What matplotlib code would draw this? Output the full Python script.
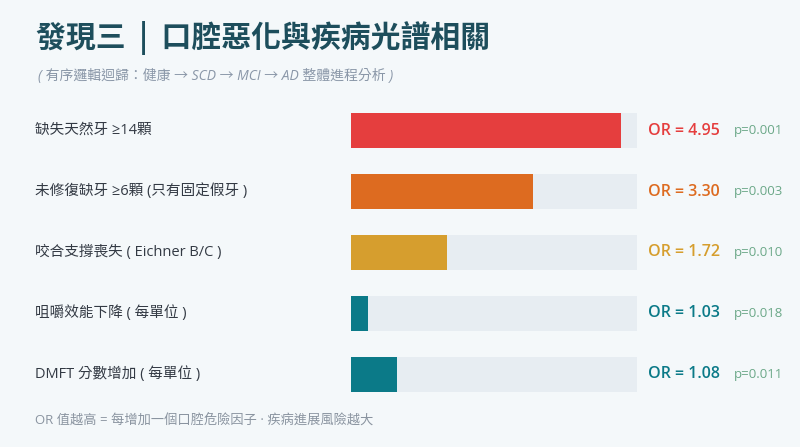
import matplotlib.pyplot as plt

plt.rcParams['font.family'] = ['Open Sans', 'Noto Sans CJK TC', 'DejaVu Sans']

# data
labels = ['缺失天然牙 ≥14顆', '未修復缺牙 ≥6顆 (只有固定假牙 )', '咬合支撐喪失 ( Eichner B/C )',
          '咀嚼效能下降 ( 每單位 )', 'DMFT 分數增加 ( 每單位 )']
odds = ['4.95', '3.30', '1.72', '1.03', '1.08']
pvals = ['0.001', '0.003', '0.010', '0.018', '0.011']
bar_pct = [94.4, 63.6, 33.6, 6.0, 16.1]
colors = ['#E53E3E', '#DD6B20', '#D69E2E', '#0B7A88', '#0B7A88']

bg = '#F4F8FA'
fig = plt.figure(figsize=(8, 4.47), dpi=100, facecolor=bg)

W, H = 800, 447
# bar area in pixels: x 351-637, y 113-392
ax = fig.add_axes([351 / W, 1 - 392 / H, 286 / W, 279 / H])
ax.set_facecolor(bg)
n = len(labels)
ypos = list(range(n))
bh = 0.574
ax.barh(ypos, [100] * n, height=bh, color='#E7EDF2', zorder=1)
ax.barh(ypos, bar_pct, height=bh, color=colors, zorder=2)
ax.set_xlim(0, 100)
ax.set_ylim(n - 1 + bh / 2, -bh / 2)
ax.axis('off')

for i in range(n):
    ax.text(-110.5, i, labels[i], ha='left', va='center', fontsize=10.5,
            color='#333a44', clip_on=False)
    ax.text(103.8, i, 'OR = ' + odds[i], ha='left', va='center', fontsize=11.5,
            color=colors[i], fontweight='semibold', clip_on=False)
    ax.text(134.0, i, 'p=' + pvals[i], ha='left', va='center', fontsize=9.5,
            color='#6BA888', clip_on=False)

fig.text(36 / W, 1 - 38 / H, '發現三  |  口腔惡化與疾病光譜相關', ha='left', va='center',
         fontsize=21.5, fontweight='bold', color='#1D4E5C',
         family=['Noto Sans CJK TC', 'DejaVu Sans'])
fig.text(38 / W, 1 - 76 / H, '( 有序邏輯迴歸：健康 → SCD → MCI → AD 整體進程分析 )',
         ha='left', va='center', fontsize=10, style='italic', color='#8A97A8')
fig.text(35 / W, 1 - 421 / H, 'OR 值越高 = 每增加一個口腔危險因子 · 疾病進展風險越大',
         ha='left', va='center', fontsize=9.5, color='#8A94A0')

fig.savefig('out.png', dpi=100, facecolor=bg)
